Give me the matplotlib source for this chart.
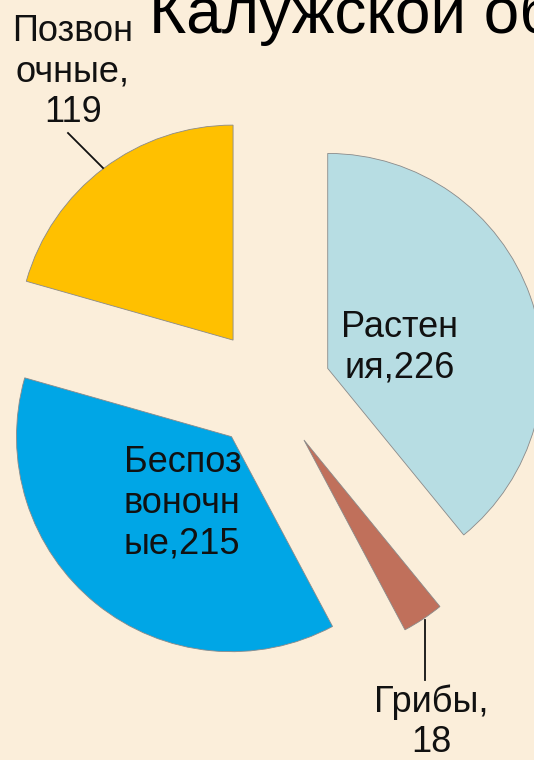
import matplotlib
matplotlib.use("Agg")
import matplotlib.pyplot as plt

categories = ["Растения", "Грибы", "Беспозвоночные", "Позвоночные"]
values = [226, 18, 215, 119]
label_texts = ["Растен\nия,226", "Грибы,\n18", "Беспоз\nвоночн\nые,215", "Позвон\nочные,\n119"]
colors = ["#B7DDE3", "#C0705B", "#00A6E6", "#FFC000"]
title_text = "Калужской об"

W, H = 534, 760
R = 215.0          # pie radius in pixels
CX, CY = 270.0, 389.0  # pie centre in pixels (y down)

def P(px, py):
    return ((px - CX) / R, (CY - py) / R)

plt.rcParams['font.family'] = ['Liberation Sans', 'DejaVu Sans']
fig = plt.figure(figsize=(W / 100, H / 100), dpi=100)
fig.patch.set_facecolor("#FBEEDA")
ax = fig.add_axes([0, 0, 1, 1])
ax.set_facecolor("#FBEEDA")
ax.axis("off")

wedges, _ = ax.pie(values, startangle=90, counterclock=False,
                   explode=[0.285] * len(values), radius=1.0, colors=colors,
                   center=(0, 0),
                   wedgeprops=dict(edgecolor="#8a8a8a", linewidth=0.6))
ax.set_xlim(-CX / R, (W - CX) / R)
ax.set_ylim((CY - H) / R, CY / R)
ax.set_aspect("equal")

fs = 26
ls = 1.2
tc = "#111111"
# Plants
x, y = P(400, 377)
ax.text(x, y, label_texts[0], ha="center", va="baseline", multialignment="center",
        fontsize=fs, color=tc, linespacing=ls)
# Fungi
x, y = P(431, 752)
ax.text(x, y, label_texts[1], ha="center", va="baseline", multialignment="center",
        fontsize=fs, color=tc, linespacing=ls)
ax.plot(*zip(P(425, 620), P(425, 680)), color=tc, lw=1.3)
# Invertebrates
x, y = P(124, 553)
ax.text(x, y, label_texts[2], ha="left", va="baseline", multialignment="left",
        fontsize=fs, color=tc, linespacing=ls)
# Vertebrates
x, y = P(73, 122)
ax.text(x, y, label_texts[3], ha="center", va="baseline", multialignment="center",
        fontsize=fs, color=tc, linespacing=ls)
ax.plot(*zip(P(68, 133), P(103, 168)), color=tc, lw=1.3)

# cropped title (reference image is cut at its top edge)
x, y = P(149, 33)
ax.text(x, y, title_text, ha="left", va="baseline", fontsize=46, color="#000000")

fig.savefig("out.png", dpi=100, facecolor=fig.get_facecolor())
